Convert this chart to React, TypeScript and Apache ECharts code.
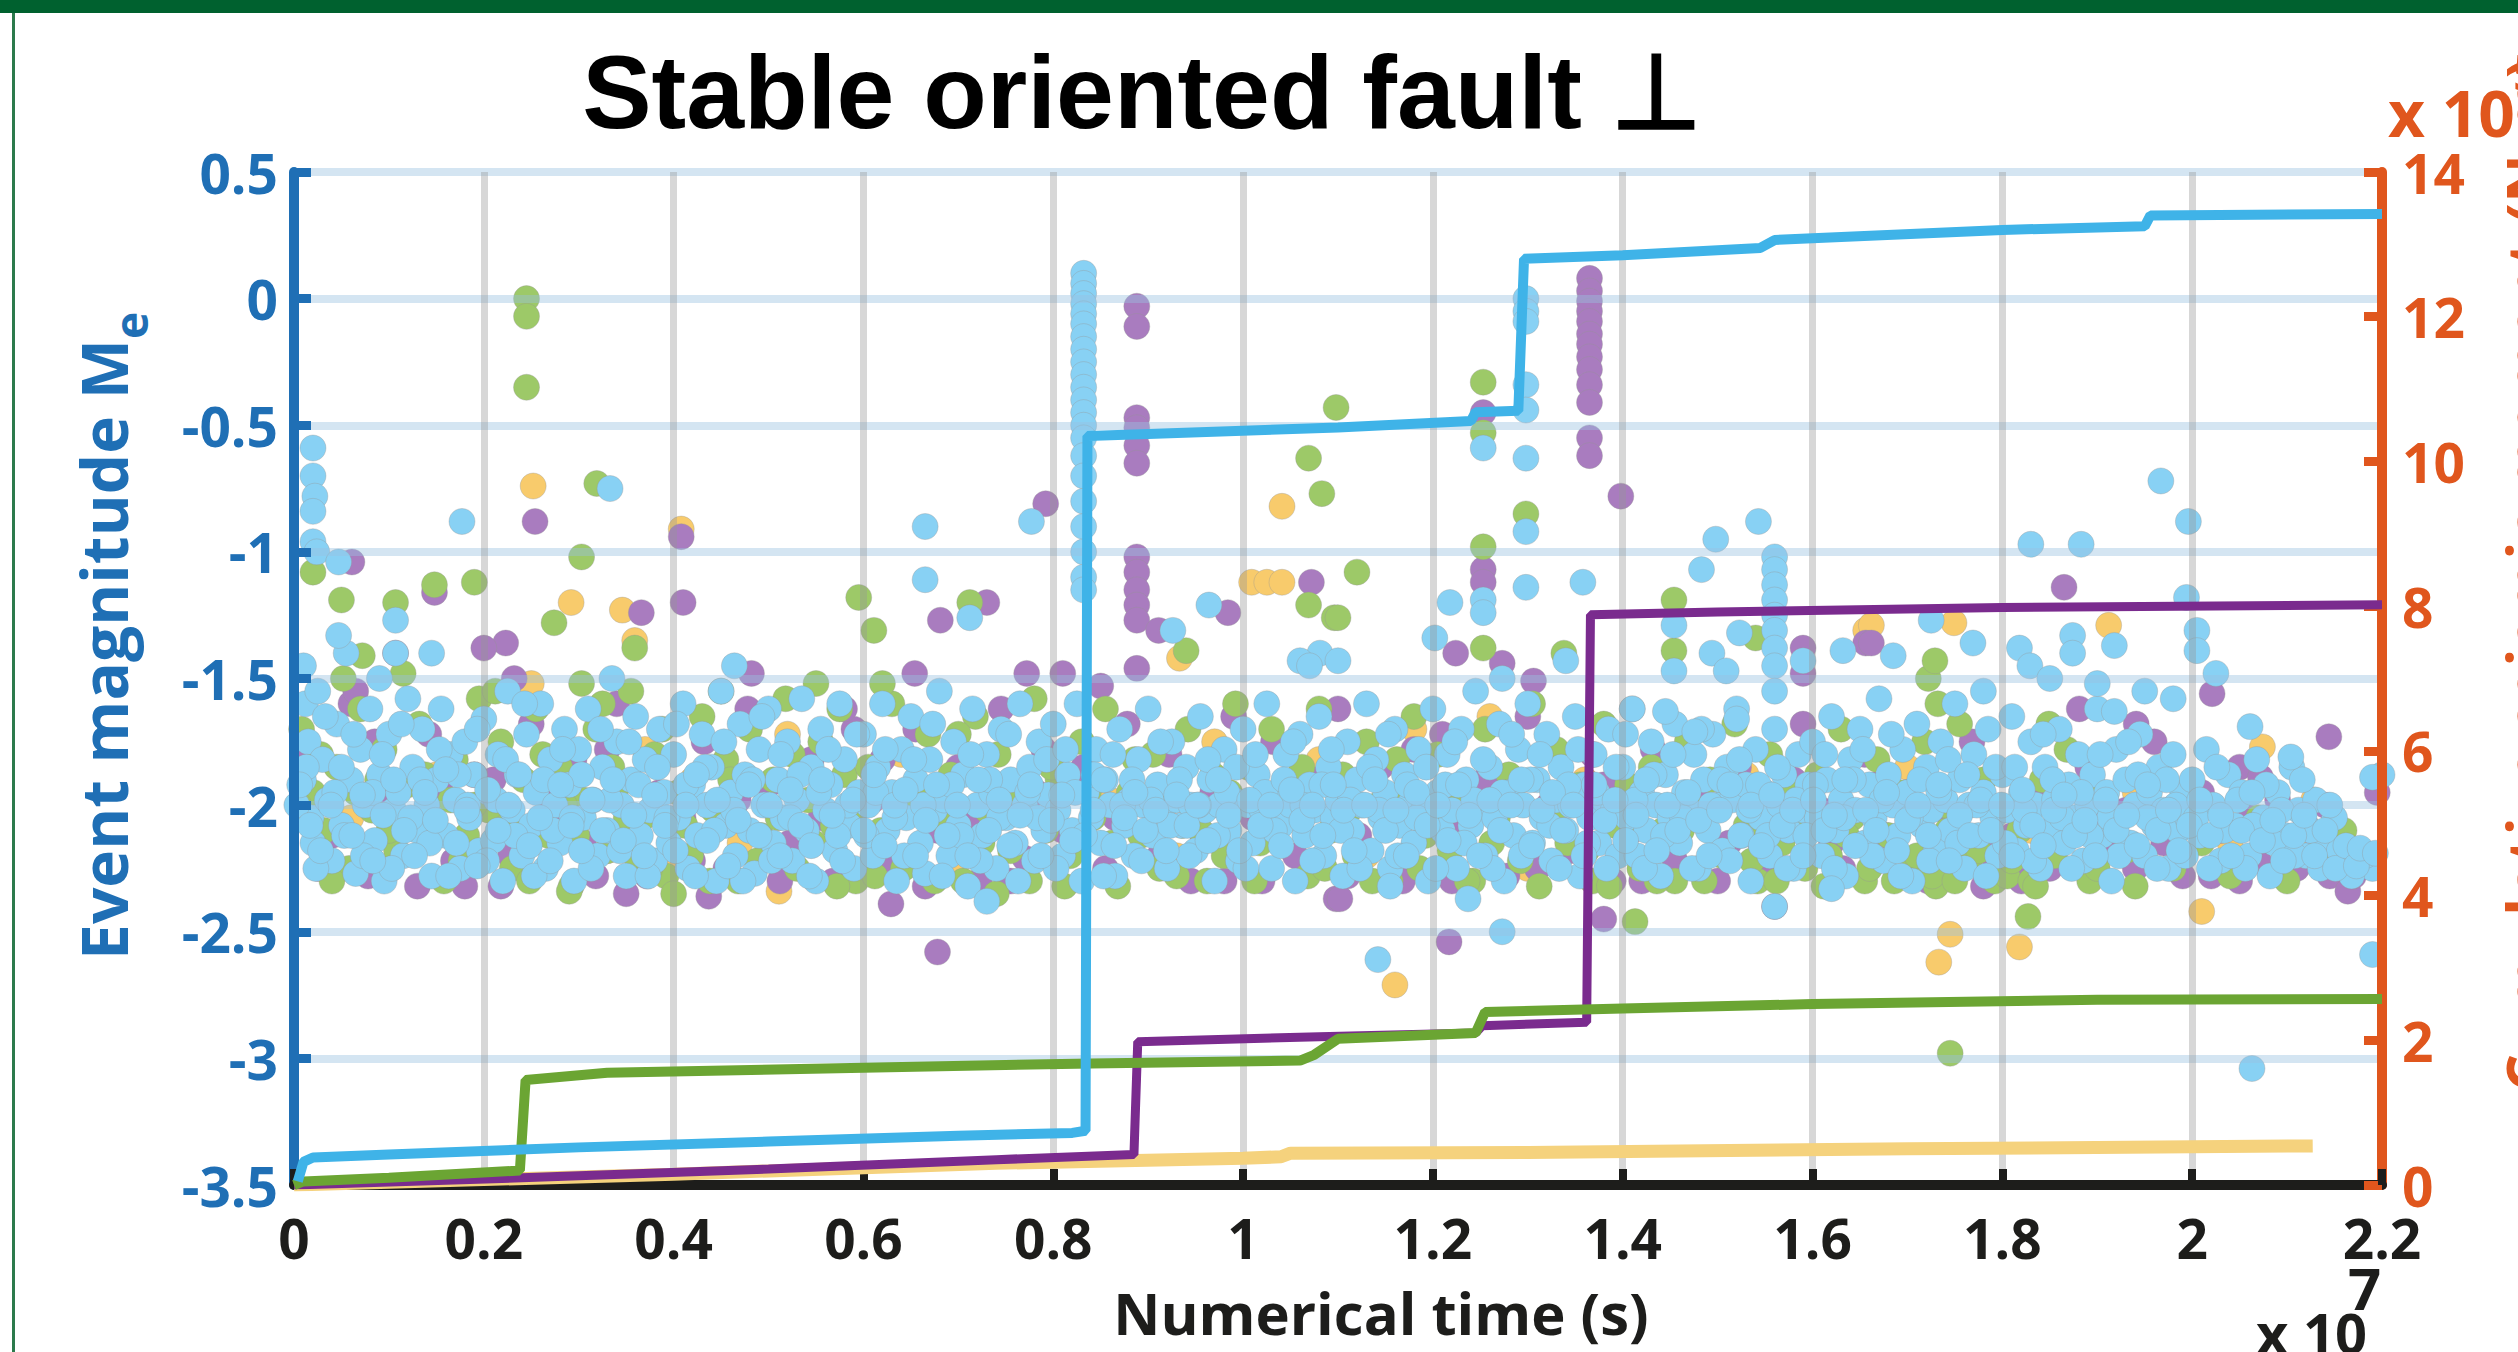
import React, { useEffect, useRef } from "react";
import * as echarts from "echarts";

// ---- Cumulative moment curves (right axis, x in units of 1e7 s) ----
const cyanMoment: [number, number][] = [
  [0.004, 0.05], [0.01, 0.32], [0.02, 0.38], [0.1, 0.42], [0.3, 0.52], [0.5, 0.6], [0.7, 0.68], [0.82, 0.72],
  [0.834, 0.75], [0.836, 10.35], [0.9, 10.38], [1.1, 10.47], [1.24, 10.56], [1.245, 10.68], [1.29, 10.7],
  [1.296, 12.8], [1.4, 12.85], [1.545, 12.95], [1.56, 13.06], [1.8, 13.2], [1.95, 13.25], [1.956, 13.4], [2.2, 13.42],
];
const purpleMoment: [number, number][] = [
  [0.0, 0.0], [0.24, 0.1], [0.5, 0.22], [0.74, 0.35], [0.885, 0.42], [0.889, 1.98], [1.08, 2.05],
  [1.245, 2.1], [1.252, 2.2], [1.362, 2.25], [1.366, 7.88], [1.5, 7.92], [1.8, 7.98], [2.2, 8.02],
];
const greenMoment: [number, number][] = [
  [0.0, 0.0], [0.01, 0.05], [0.1, 0.1], [0.238, 0.2], [0.244, 1.45], [0.33, 1.55], [0.6, 1.62], [0.84, 1.68],
  [1.06, 1.72], [1.075, 1.8], [1.1, 2.02], [1.245, 2.1], [1.255, 2.39], [1.4, 2.44], [1.6, 2.5], [1.9, 2.56], [2.2, 2.57],
];
const yellowMoment: [number, number][] = [
  [0.0, 0.0], [0.4, 0.15], [0.74, 0.3], [1.0, 0.37], [1.04, 0.39], [1.05, 0.44], [1.3, 0.45], [1.7, 0.5], [2.127, 0.54],
];

// ---- Event magnitudes (left axis) ----
const cyanEvents: [number, number][] = [
  [0.01,-1.45],[0.012,-1.6],[0.015,-1.75],[0.01,-1.9],[0.018,-2.05],[0.02,-2.15],[0.025,-1.55],[0.03,-1.82],[0.035,-1.98],[0.04,-2.22],[0.045,-1.68],[0.05,-2.08],[0.055,-1.4],[0.06,-1.9],[0.065,-2.27],[0.07,-1.78],[0.075,-2.0],[0.08,-1.62],[0.085,-2.14],[0.09,-1.88],[0.095,-2.3],[0.1,-1.72],[0.105,-2.02],[0.11,-1.95],[0.115,-2.2],[0.12,-1.58],[0.125,-1.85],[0.13,-2.1],[0.135,-1.7],[0.14,-2.0],[0.145,-2.28],[0.15,-1.9],[0.155,-1.62],[0.16,-2.12],[0.165,-1.8],[0.17,-1.98],[0.175,-2.25],[0.18,-1.75],[0.185,-2.05],[0.19,-1.88],[0.195,-2.18],
  [0.2,-1.66],[0.205,-1.95],[0.21,-2.14],[0.215,-1.8],[0.22,-2.3],[0.225,-1.55],[0.23,-2.02],[0.235,-1.88],[0.24,-2.2],[0.245,-1.72],[0.25,-2.08],[0.255,-1.95],[0.26,-1.6],[0.265,-2.25],[0.27,-1.82],[0.275,-2.0],[0.28,-2.15],[0.285,-1.7],[0.29,-1.92],[0.295,-2.3],[0.3,-1.78],[0.305,-2.05],[0.31,-1.62],[0.315,-1.98],[0.32,-2.2],[0.325,-1.85],[0.33,-2.1],[0.335,-1.5],[0.34,-1.75],[0.345,-2.0],[0.35,-2.28],[0.355,-1.9],[0.36,-1.65],[0.365,-2.12],[0.37,-1.82],[0.375,-2.02],[0.38,-2.22],[0.385,-1.7],[0.39,-1.95],[0.395,-2.15],
  [0.4,-1.8],[0.405,-2.05],[0.41,-1.6],[0.415,-2.25],[0.42,-1.92],[0.425,-2.12],[0.43,-1.72],[0.435,-2.0],[0.44,-1.85],[0.445,-2.3],[0.45,-1.55],[0.455,-2.08],[0.46,-1.95],[0.465,-2.2],[0.47,-1.68],[0.475,-1.88],[0.48,-2.1],[0.485,-2.27],[0.49,-1.78],[0.495,-2.0],[0.5,-1.62],[0.505,-2.15],[0.51,-1.9],[0.515,-2.05],[0.52,-1.75],[0.525,-2.22],[0.53,-1.98],[0.535,-1.58],[0.54,-2.1],[0.545,-1.85],[0.55,-2.3],[0.555,-1.7],[0.56,-2.02],[0.565,-1.92],[0.57,-2.18],[0.575,-1.6],[0.58,-1.82],[0.585,-2.08],[0.59,-2.25],[0.595,-1.95],
  [0.6,-1.72],[0.605,-2.0],[0.61,-2.2],[0.615,-1.85],[0.62,-1.6],[0.625,-2.1],[0.63,-1.95],[0.635,-2.3],[0.64,-1.78],[0.645,-2.05],[0.65,-1.65],[0.655,-1.9],[0.66,-2.15],[0.665,-2.27],[0.67,-1.82],[0.675,-2.02],[0.68,-1.55],[0.685,-1.98],[0.69,-2.2],[0.695,-1.75],[0.7,-2.08],[0.705,-1.88],[0.71,-2.32],[0.715,-1.62],[0.72,-2.0],[0.725,-2.12],[0.73,-1.8],[0.735,-1.95],[0.74,-2.25],[0.745,-1.7],[0.75,-2.05],[0.755,-1.9],[0.76,-2.15],[0.765,-1.6],[0.77,-2.0],[0.775,-1.85],[0.78,-2.22],[0.785,-1.75],[0.79,-2.1],[0.795,-1.96],
  [0.8,-1.68],[0.805,-2.02],[0.81,-2.2],[0.815,-1.88],[0.82,-2.1],[0.825,-1.6],[0.83,-2.3],[0.835,-1.95],[0.84,-2.05],[0.845,-1.78],[0.85,-2.15],[0.855,-1.9],[0.86,-2.0],[0.865,-2.28],[0.87,-1.7],[0.875,-2.08],[0.88,-1.98],[0.885,-2.2],[0.89,-1.82],[0.895,-2.0],[0.9,-1.62],[0.905,-2.12],[0.91,-1.92],[0.915,-2.02],[0.92,-2.25],[0.925,-1.75],[0.93,-1.98],[0.935,-2.08],[0.94,-1.85],[0.945,-2.0],[0.95,-2.18],[0.955,-1.65],[0.96,-2.02],[0.965,-1.9],[0.97,-2.3],[0.975,-2.0],[0.98,-1.78],[0.985,-2.1],[0.99,-1.98],[0.995,-2.22],
  [1.0,-1.7],[1.005,-2.0],[1.01,-2.15],[1.015,-1.88],[1.02,-2.02],[1.025,-1.6],[1.03,-2.25],[1.035,-1.95],[1.04,-2.08],[1.045,-1.8],[1.05,-2.0],[1.055,-2.3],[1.06,-1.72],[1.065,-2.12],[1.07,-1.92],[1.075,-2.02],[1.08,-1.65],[1.085,-2.2],[1.09,-1.85],[1.095,-2.05],[1.1,-1.98],[1.105,-2.28],[1.11,-1.75],[1.115,-2.1],[1.12,-1.9],[1.125,-2.0],[1.13,-1.6],[1.135,-2.18],[1.14,-1.82],[1.145,-2.05],[1.15,-1.95],[1.155,-2.25],[1.16,-1.7],[1.165,-2.08],[1.17,-1.88],[1.175,-2.0],[1.18,-2.15],[1.185,-1.78],[1.19,-2.02],[1.195,-2.3],
  [1.2,-1.62],[1.205,-1.95],[1.21,-2.1],[1.215,-1.8],[1.22,-2.02],[1.225,-2.25],[1.23,-1.7],[1.235,-1.9],[1.24,-2.08],[1.245,-1.55],[1.25,-2.0],[1.255,-2.2],[1.26,-1.85],[1.265,-2.05],[1.27,-1.68],[1.275,-2.3],[1.28,-1.95],[1.285,-2.12],[1.29,-1.78],[1.295,-2.0],[1.3,-1.6],[1.305,-2.15],[1.31,-1.9],[1.315,-2.05],[1.32,-1.72],[1.325,-2.22],[1.33,-1.98],[1.335,-1.85],[1.34,-2.1],[1.345,-2.0],[1.35,-1.65],[1.355,-2.28],[1.36,-1.92],[1.365,-2.05],[1.37,-1.8],[1.375,-2.15],[1.38,-1.98],[1.385,-1.7],[1.39,-2.02],[1.395,-2.2],
  [1.4,-1.85],[1.405,-2.05],[1.41,-1.62],[1.415,-2.2],[1.42,-1.95],[1.425,-2.1],[1.43,-1.75],[1.435,-2.0],[1.44,-2.28],[1.445,-1.88],[1.45,-2.05],[1.455,-1.68],[1.46,-2.15],[1.465,-1.95],[1.47,-2.02],[1.475,-1.8],[1.48,-2.25],[1.485,-1.9],[1.49,-2.1],[1.495,-1.72],[1.5,-2.0],[1.505,-2.18],[1.51,-1.85],[1.515,-1.98],[1.52,-1.62],[1.525,-2.12],[1.53,-1.92],[1.535,-2.3],[1.54,-1.78],[1.545,-2.05],[1.55,-1.95],[1.555,-2.2],[1.56,-1.7],[1.565,-2.0],[1.57,-1.88],[1.575,-2.1],[1.58,-2.25],[1.585,-1.8],[1.59,-2.02],[1.595,-1.92],
  [1.6,-1.75],[1.605,-2.05],[1.61,-2.2],[1.615,-1.9],[1.62,-1.65],[1.625,-2.1],[1.63,-1.98],[1.635,-2.28],[1.64,-1.82],[1.645,-2.02],[1.65,-1.7],[1.655,-2.15],[1.66,-1.92],[1.665,-2.05],[1.67,-1.58],[1.675,-2.22],[1.68,-1.88],[1.685,-2.0],[1.69,-2.12],[1.695,-1.78],[1.7,-1.95],[1.705,-2.3],[1.71,-1.68],[1.715,-2.08],[1.72,-1.85],[1.725,-2.02],[1.73,-2.18],[1.735,-1.75],[1.74,-1.98],[1.745,-2.1],[1.75,-1.6],[1.755,-1.9],[1.76,-2.25],[1.765,-2.0],[1.77,-1.8],[1.775,-2.12],[1.78,-1.95],[1.785,-1.7],[1.79,-2.05],[1.795,-2.2],
  [1.8,-1.88],[1.805,-2.02],[1.81,-1.65],[1.815,-2.18],[1.82,-1.95],[1.825,-2.08],[1.83,-1.75],[1.835,-2.0],[1.84,-2.25],[1.845,-1.85],[1.85,-2.1],[1.855,-1.98],[1.86,-1.7],[1.865,-2.15],[1.87,-1.92],[1.875,-2.05],[1.88,-1.8],[1.885,-2.22],[1.89,-2.0],[1.895,-1.88],[1.9,-1.62],[1.905,-2.12],[1.91,-1.95],[1.915,-2.3],[1.92,-1.78],[1.925,-2.05],[1.93,-1.9],[1.935,-2.15],[1.94,-2.0],[1.945,-1.72],[1.95,-2.2],[1.955,-1.95],[1.96,-2.08],[1.965,-1.85],[1.97,-2.02],[1.975,-2.25],[1.98,-1.8],[1.985,-2.1],[1.99,-1.95],[1.995,-2.05],
  [2.0,-1.9],[2.008,-2.12],[2.015,-1.78],[2.022,-2.0],[2.03,-2.22],[2.038,-1.88],[2.045,-2.08],[2.052,-1.95],[2.06,-2.2],[2.068,-1.82],[2.075,-2.05],[2.082,-2.28],[2.09,-1.95],[2.098,-2.12],[2.105,-1.85],[2.112,-2.02],[2.12,-2.2],[2.13,-1.98],[2.14,-2.15],[2.15,-2.05],[2.16,-2.22],[2.175,-2.18],[2.19,-2.25],[2.2,-1.88],
  // denser part of the band
  [0.003,-2.0],[0.013,-1.85],[0.023,-2.25],[0.033,-1.65],[0.043,-1.95],[0.053,-2.12],[0.063,-1.72],[0.073,-2.2],[0.083,-1.95],[0.093,-1.8],[0.103,-2.25],[0.113,-1.68],[0.123,-2.05],[0.133,-1.9],[0.143,-2.15],[0.153,-1.78],[0.163,-2.28],[0.173,-1.88],[0.183,-2.0],[0.193,-1.7],
  [0.203,-2.22],[0.213,-1.98],[0.223,-1.82],[0.233,-2.12],[0.243,-1.6],[0.253,-2.28],[0.263,-1.9],[0.273,-2.1],[0.283,-1.78],[0.293,-2.05],[0.303,-1.88],[0.313,-2.25],[0.323,-1.7],[0.333,-1.98],[0.343,-2.18],[0.353,-1.75],[0.363,-1.92],[0.373,-2.28],[0.383,-1.85],[0.393,-2.05],
  [0.403,-1.68],[0.413,-1.92],[0.423,-2.28],[0.433,-1.85],[0.443,-2.1],[0.453,-1.75],[0.463,-2.02],[0.473,-2.3],[0.483,-1.9],[0.493,-1.65],[0.503,-2.22],[0.513,-1.8],[0.523,-2.05],[0.533,-1.88],[0.543,-2.28],[0.553,-1.95],[0.563,-1.78],[0.573,-2.12],[0.583,-2.0],[0.593,-1.72],
  [0.603,-2.12],[0.613,-1.95],[0.623,-1.78],[0.633,-2.05],[0.643,-2.2],[0.653,-1.82],[0.663,-2.0],[0.673,-1.68],[0.683,-2.28],[0.693,-1.92],[0.703,-2.12],[0.713,-1.8],[0.723,-2.22],[0.733,-1.9],[0.743,-2.05],[0.753,-1.72],[0.763,-2.3],[0.773,-1.95],[0.783,-2.05],[0.793,-1.82],
  [0.803,-2.25],[0.813,-1.78],[0.823,-1.95],[0.833,-2.12],[0.843,-1.88],[0.853,-2.28],[0.863,-1.8],[0.873,-2.0],[0.883,-1.9],[0.893,-2.22],[0.903,-1.98],[0.913,-1.75],[0.923,-2.08],[0.933,-1.9],[0.943,-2.2],[0.953,-2.0],[0.963,-1.82],[0.973,-2.12],[0.983,-1.95],[0.993,-1.85],
  [1.003,-2.25],[1.013,-1.8],[1.023,-1.95],[1.033,-2.1],[1.043,-1.9],[1.053,-1.75],[1.063,-2.0],[1.073,-2.22],[1.083,-1.92],[1.093,-1.78],[1.103,-2.1],[1.113,-1.98],[1.123,-2.25],[1.133,-1.85],[1.143,-2.02],[1.153,-1.72],[1.163,-2.2],[1.173,-1.92],[1.183,-2.05],[1.193,-1.85],
  [1.203,-2.25],[1.213,-1.92],[1.223,-1.75],[1.233,-2.15],[1.243,-1.98],[1.253,-1.82],[1.263,-2.25],[1.273,-1.95],[1.283,-1.72],[1.293,-2.2],[1.303,-1.9],[1.313,-1.8],[1.323,-2.08],[1.333,-2.25],[1.343,-1.92],[1.353,-1.78],[1.363,-2.15],[1.373,-1.95],[1.383,-2.25],[1.393,-1.85],
  [1.403,-1.72],[1.413,-1.98],[1.423,-2.25],[1.433,-1.88],[1.443,-2.12],[1.453,-1.8],[1.463,-2.05],[1.473,-2.25],[1.483,-1.7],[1.493,-2.0],[1.503,-1.9],[1.513,-2.22],[1.523,-1.82],[1.533,-2.02],[1.543,-1.92],[1.553,-2.12],[1.563,-1.85],[1.573,-2.25],[1.583,-1.98],[1.593,-2.12],
  [1.603,-1.92],[1.613,-1.8],[1.623,-2.25],[1.633,-2.05],[1.643,-1.9],[1.653,-1.78],[1.663,-2.2],[1.673,-1.98],[1.683,-1.72],[1.693,-2.28],[1.703,-2.05],[1.713,-1.9],[1.723,-2.22],[1.733,-1.95],[1.743,-1.82],[1.753,-2.15],[1.763,-1.88],[1.773,-2.0],[1.783,-2.28],[1.793,-1.85],
  [1.803,-2.15],[1.813,-1.85],[1.823,-2.02],[1.833,-2.22],[1.843,-1.72],[1.853,-1.9],[1.863,-2.05],[1.873,-2.25],[1.883,-1.95],[1.893,-2.12],[1.903,-1.8],[1.913,-2.05],[1.923,-2.2],[1.933,-1.75],[1.943,-1.88],[1.953,-2.05],[1.963,-2.25],[1.973,-1.9],[1.983,-2.0],[1.993,-2.2],
  [2.004,-2.05],[2.018,-2.25],[2.026,-1.85],[2.034,-2.1],[2.048,-1.98],[2.056,-2.25],[2.064,-2.08],[2.078,-1.92],[2.086,-2.15],[2.094,-2.02],[2.108,-2.2],[2.116,-1.9],[2.125,-2.1],[2.135,-2.25],[2.145,-2.0],[2.155,-2.18],[2.168,-2.28],[2.182,-2.2],
  // solid light-blue core around -2
  [0.006,-1.92],[0.017,-2.08],[0.028,-2.18],[0.039,-2.0],[0.05,-1.85],[0.061,-2.12],[0.072,-1.96],[0.083,-2.22],[0.094,-2.04],[0.105,-1.9],
  [0.116,-2.1],[0.127,-2.2],[0.138,-1.95],[0.149,-2.06],[0.16,-1.86],[0.171,-2.15],[0.182,-2.02],[0.193,-2.24],[0.204,-1.94],[0.215,-2.1],
  [0.226,-2.0],[0.237,-1.88],[0.248,-2.16],[0.259,-2.05],[0.27,-2.22],[0.281,-1.92],[0.292,-2.08],[0.303,-2.18],[0.314,-1.98],[0.325,-2.1],
  [0.336,-1.9],[0.347,-2.14],[0.358,-2.04],[0.369,-2.2],[0.38,-1.96],[0.391,-2.08],[0.402,-2.18],[0.413,-2.0],[0.424,-1.88],[0.435,-2.14],
  [0.446,-1.98],[0.457,-2.24],[0.468,-2.06],[0.479,-1.92],[0.49,-2.12],[0.501,-2.0],[0.512,-2.2],[0.523,-1.94],[0.534,-2.08],[0.545,-2.16],
  [0.556,-1.9],[0.567,-2.04],[0.578,-2.22],[0.589,-1.98],[0.6,-2.1],[0.611,-1.88],[0.622,-2.16],[0.633,-2.0],[0.644,-1.94],[0.655,-2.2],
  [0.666,-2.06],[0.677,-1.92],[0.688,-2.12],[0.699,-2.0],[0.71,-2.2],[0.721,-1.9],[0.732,-2.1],[0.743,-1.98],[0.754,-2.16],[0.765,-2.04],
  [0.776,-1.92],[0.787,-2.2],[0.798,-2.06],[0.809,-1.96],[0.82,-2.14],[0.842,-2.02],[0.853,-1.9],[0.864,-2.16],[0.875,-2.05],[0.886,-1.95],
  [0.897,-2.1],[0.908,-2.02],[0.919,-2.18],[0.93,-1.96],[0.941,-2.08],[0.952,-2.0],[0.963,-2.14],[0.974,-1.9],[0.985,-2.04],[0.996,-2.18],
  [1.007,-1.98],[1.018,-2.08],[1.029,-2.0],[1.04,-2.16],[1.051,-1.94],[1.062,-2.06],[1.073,-2.0],[1.084,-2.12],[1.095,-1.92],[1.106,-2.02],
  [1.117,-2.18],[1.128,-2.0],[1.139,-1.9],[1.15,-2.1],[1.161,-2.02],[1.172,-2.2],[1.183,-1.95],[1.194,-2.08],[1.205,-2.0],[1.216,-2.14],
  [1.227,-1.92],[1.238,-2.04],[1.249,-2.2],[1.26,-1.98],[1.271,-2.1],[1.282,-2.0],[1.293,-1.9],[1.304,-2.16],[1.315,-2.02],[1.326,-1.95],
  [1.337,-2.1],[1.348,-2.0],[1.359,-2.2],[1.37,-1.92],[1.381,-2.06],[1.392,-1.98],[1.403,-2.14],[1.414,-2.04],[1.425,-1.9],[1.436,-2.18],
  [1.447,-2.0],[1.458,-2.1],[1.469,-1.95],[1.48,-2.06],[1.491,-2.2],[1.502,-2.02],[1.513,-1.92],[1.524,-2.12],[1.535,-2.0],[1.546,-2.16],
  [1.557,-1.96],[1.568,-2.08],[1.579,-2.02],[1.59,-2.2],[1.601,-1.98],[1.612,-2.1],[1.623,-2.04],[1.634,-1.9],[1.645,-2.16],[1.656,-2.02],
  [1.667,-2.1],[1.678,-1.95],[1.689,-2.18],[1.7,-2.06],[1.711,-2.0],[1.722,-2.12],[1.733,-1.92],[1.744,-2.22],[1.755,-2.04],[1.766,-2.12],
  [1.777,-1.98],[1.788,-2.1],[1.799,-2.0],[1.81,-2.2],[1.821,-1.94],[1.832,-2.08],[1.843,-2.16],[1.854,-2.02],[1.865,-1.96],[1.876,-2.12],
  [1.887,-2.06],[1.898,-2.2],[1.909,-1.98],[1.92,-2.1],[1.931,-2.04],[1.942,-2.16],[1.953,-1.92],[1.964,-2.1],[1.975,-2.02],[1.986,-2.18],
  [1.997,-2.08],[2.008,-1.98],[2.019,-2.12],[2.03,-2.04],[2.041,-2.2],[2.052,-2.1],[2.063,-1.95],[2.074,-2.14],[2.085,-2.06],[2.096,-2.22],
  [2.107,-2.12],[2.118,-2.04],[2.129,-2.2],[2.14,-2.1],[2.151,-2.25],[2.162,-2.16],[2.173,-2.24],
  // outliers
  [0.02,-0.59],[0.02,-0.7],[0.022,-0.78],[0.02,-0.84],[0.02,-0.96],[0.024,-1.0],[0.047,-1.04],[0.177,-0.88],[0.333,-0.75],[0.107,-1.27],[0.107,-1.4],[0.047,-1.33],[0.145,-1.4],[0.09,-1.5],[0.464,-1.45],
  [0.832,0.1],[0.832,0.06],[0.832,0.02],[0.832,-0.02],[0.832,-0.06],[0.832,-0.1],[0.832,-0.15],[0.832,-0.2],[0.832,-0.25],[0.832,-0.3],[0.832,-0.35],[0.832,-0.4],[0.832,-0.45],[0.832,-0.5],[0.832,-0.55],[0.832,-0.62],[0.832,-0.7],[0.832,-0.8],[0.832,-0.9],[0.832,-1.0],[0.832,-1.1],[0.832,-1.15],
  [0.665,-0.9],[0.665,-1.11],[0.777,-0.88],[0.712,-1.26],[0.926,-1.31],[0.964,-1.21],[1.081,-1.4],[1.06,-1.43],[1.07,-1.45],[1.1,-1.43],
  [1.253,-0.59],[1.253,-1.19],[1.253,-1.24],[1.218,-1.2],[1.202,-1.34],[1.273,-1.5],
  [1.298,0.0],[1.298,-0.05],[1.298,-0.09],[1.298,-0.34],[1.298,-0.44],[1.298,-0.63],[1.298,-0.92],[1.298,-1.14],
  [1.358,-1.12],[1.34,-1.43],[1.498,-0.95],[1.543,-0.88],[1.483,-1.07],
  [1.56,-1.02],[1.56,-1.07],[1.56,-1.13],[1.56,-1.19],[1.56,-1.25],[1.56,-1.31],[1.56,-1.38],[1.56,-1.45],[1.56,-1.55],
  [1.454,-1.29],[1.454,-1.47],[1.494,-1.4],[1.509,-1.47],[1.523,-1.32],[1.59,-1.43],[1.632,-1.39],[1.41,-1.62],[1.445,-1.63],[1.476,-1.71],[1.52,-1.66],
  [1.155,-2.32],[1.237,-2.37],[1.273,-2.5],[1.142,-2.61],[1.56,-2.4],[1.62,-2.33],[0.73,-2.38],
  [1.967,-0.72],[1.996,-0.88],[1.83,-0.97],[1.883,-0.97],[1.994,-1.18],[1.725,-1.27],[1.769,-1.36],[1.685,-1.41],[1.818,-1.38],[1.829,-1.45],[1.874,-1.33],[1.874,-1.4],[1.918,-1.37],[2.005,-1.31],[2.005,-1.39],[2.025,-1.48],[1.918,-1.63],[2.061,-1.69],[2.104,-1.81],[2.19,-1.89],[2.177,-2.17],[2.193,-2.19],[2.19,-2.59],[2.063,-3.04],
  [1.85,-1.5],[1.9,-1.52],[1.95,-1.55],[1.98,-1.58],[1.78,-1.55],
];

const greenEvents: [number, number][] = [
  [0.008,-1.7],[0.02,-1.95],[0.032,-2.1],[0.045,-1.85],[0.058,-2.25],[0.07,-1.62],[0.082,-2.02],[0.095,-1.78],[0.108,-2.18],[0.12,-1.92],[0.132,-1.68],[0.145,-2.05],[0.158,-2.3],[0.17,-1.82],[0.182,-2.12],[0.195,-1.58],[0.052,-1.5],[0.115,-1.48],[0.165,-1.98],[0.088,-1.9],
  [0.205,-2.02],[0.218,-1.75],[0.23,-2.25],[0.242,-1.9],[0.255,-1.62],[0.268,-2.12],[0.28,-1.85],[0.292,-2.32],[0.305,-1.98],[0.318,-1.7],[0.33,-2.18],[0.342,-1.92],[0.355,-1.55],[0.368,-2.05],[0.38,-1.8],[0.392,-2.28],[0.212,-1.55],[0.285,-2.0],[0.36,-2.2],[0.325,-1.6],
  [0.405,-1.95],[0.418,-2.2],[0.43,-1.65],[0.442,-2.02],[0.455,-1.82],[0.468,-2.3],[0.48,-1.7],[0.492,-2.12],[0.505,-1.9],[0.518,-1.58],[0.53,-2.25],[0.542,-1.98],[0.555,-1.75],[0.568,-2.08],[0.58,-1.88],[0.592,-2.3],[0.45,-1.55],[0.55,-1.52],[0.51,-2.05],[0.575,-1.62],
  [0.605,-1.85],[0.618,-2.1],[0.63,-1.6],[0.642,-2.25],[0.655,-1.95],[0.668,-1.72],[0.68,-2.05],[0.692,-1.88],[0.705,-2.3],[0.718,-1.65],[0.73,-2.02],[0.742,-1.8],[0.755,-2.18],[0.768,-1.92],[0.78,-1.58],[0.792,-2.1],[0.74,-2.35],[0.62,-1.52],
  [0.805,-1.9],[0.818,-2.2],[0.83,-1.75],[0.842,-2.05],[0.855,-1.62],[0.868,-2.32],[0.88,-1.95],[0.892,-2.12],[0.905,-1.8],[0.918,-2.0],[0.93,-2.28],[0.942,-1.7],[0.955,-2.1],[0.968,-1.88],[0.98,-2.2],[0.992,-1.6],
  [1.005,-1.85],[1.018,-2.15],[1.03,-1.7],[1.042,-2.02],[1.055,-1.92],[1.068,-2.28],[1.08,-1.62],[1.092,-2.1],[1.105,-1.88],[1.118,-2.2],[1.13,-1.75],[1.142,-2.0],[1.155,-2.3],[1.168,-1.95],[1.18,-1.65],[1.192,-2.12],
  [1.205,-1.8],[1.218,-2.18],[1.23,-1.95],[1.242,-2.3],[1.255,-1.7],[1.268,-2.05],[1.28,-1.88],[1.292,-2.22],[1.305,-1.6],[1.318,-2.02],[1.33,-1.78],[1.342,-2.15],[1.355,-1.92],[1.368,-2.3],[1.38,-1.68],[1.392,-2.08],
  [1.405,-1.92],[1.418,-2.25],[1.43,-1.85],[1.442,-2.1],[1.455,-2.3],[1.468,-1.75],[1.48,-2.02],[1.492,-1.9],[1.505,-2.2],[1.518,-1.68],[1.53,-2.08],[1.542,-2.3],[1.555,-1.8],[1.568,-2.15],[1.58,-1.95],[1.592,-2.25],
  [1.605,-1.88],[1.618,-2.2],[1.63,-1.7],[1.642,-2.05],[1.655,-2.3],[1.668,-1.82],[1.68,-2.12],[1.692,-1.95],[1.705,-2.25],[1.718,-1.75],[1.73,-2.32],[1.742,-2.1],[1.755,-1.68],[1.768,-2.2],[1.78,-1.9],[1.792,-2.3],[1.722,-1.5],[1.732,-1.6],[1.74,-2.0],
  [1.805,-2.28],[1.818,-2.1],[1.83,-2.3],[1.842,-1.9],[1.855,-2.2],[1.868,-1.78],[1.88,-2.05],[1.892,-2.3],[1.905,-1.95],[1.93,-2.18],[1.955,-2.02],[1.98,-2.25],
  [2.01,-2.15],[2.04,-2.28],[2.07,-2.05],[2.1,-2.3],[2.133,-2.19],[2.16,-2.1],
  [0.005,-2.0],[0.028,-1.8],[0.04,-2.3],[0.065,-1.95],[0.1,-2.1],[0.138,-1.88],[0.176,-2.22],[0.19,-2.0],
  [0.225,-2.08],[0.248,-2.3],[0.262,-1.8],[0.298,-2.12],[0.335,-1.85],[0.35,-2.05],[0.375,-2.25],[0.388,-1.7],
  [0.412,-2.08],[0.438,-2.3],[0.46,-1.9],[0.488,-2.22],[0.525,-1.8],[0.548,-2.15],[0.572,-2.32],[0.598,-2.0],
  [0.612,-2.28],[0.648,-2.0],[0.675,-2.3],[0.7,-1.72],[0.725,-2.15],[0.75,-1.95],[0.775,-2.3],[0.798,-1.85],
  [0.812,-2.32],[0.837,-1.95],[0.862,-2.15],[0.886,-1.82],[0.912,-2.25],[0.936,-2.08],[0.962,-2.3],[0.986,-1.95],
  [1.012,-2.3],[1.036,-2.05],[1.062,-1.85],[1.086,-2.25],[1.112,-2.02],[1.136,-2.3],[1.162,-1.82],[1.186,-2.25],
  [1.212,-2.02],[1.236,-2.3],[1.262,-2.15],[1.286,-1.98],[1.312,-2.32],[1.336,-2.0],[1.362,-2.18],[1.386,-2.32],
  [1.412,-2.05],[1.436,-2.3],[1.462,-2.1],[1.486,-2.3],[1.512,-1.95],[1.536,-2.22],[1.562,-2.3],[1.586,-2.08],
  [1.612,-2.32],[1.636,-2.12],[1.66,-2.25],[1.686,-2.3],[1.71,-2.2],[1.726,-2.28],[1.75,-2.3],[1.775,-2.18],
  [1.81,-2.22],[1.835,-2.32],[1.86,-2.12],[1.9,-2.25],[1.94,-2.32],
  // outliers
  [0.245,0.0],[0.245,-0.07],[0.245,-0.35],[0.319,-0.73],[0.02,-1.08],[0.303,-1.02],[0.05,-1.19],[0.107,-1.2],[0.148,-1.13],[0.19,-1.12],[0.274,-1.28],[0.072,-1.41],[0.303,-1.52],[0.359,-1.38],[0.29,-2.34],[0.4,-2.35],
  [0.595,-1.18],[0.611,-1.31],[0.712,-1.2],[0.94,-1.39],[1.069,-1.21],[1.098,-0.43],[1.069,-0.63],[1.083,-0.77],[1.096,-1.26],[1.12,-1.08],[1.1,-1.26],
  [1.253,-0.33],[1.253,-0.53],[1.253,-0.98],[1.253,-1.38],[1.298,-0.85],[1.338,-1.4],[1.454,-1.19],[1.454,-1.39],[1.54,-1.34],[1.413,-2.46],
  [1.729,-1.43],[1.849,-1.68],[1.827,-2.44],[1.745,-2.98],
];

const purpleEvents: [number, number][] = [
  [0.015,-1.82],[0.04,-2.12],[0.06,-1.6],[0.078,-2.28],[0.1,-1.95],[0.125,-2.08],[0.142,-1.72],[0.168,-2.22],[0.19,-1.88],[0.065,-1.55],[0.13,-2.32],
  [0.21,-1.9],[0.228,-2.2],[0.25,-1.68],[0.272,-2.05],[0.295,-1.82],[0.318,-2.28],[0.34,-1.6],[0.362,-2.12],[0.385,-1.95],[0.35,-2.35],[0.232,-1.5],
  [0.41,-2.05],[0.432,-1.75],[0.455,-2.25],[0.478,-1.62],[0.5,-1.92],[0.522,-2.15],[0.545,-1.82],[0.568,-2.3],[0.59,-1.7],[0.437,-2.36],
  [0.61,-1.98],[0.632,-2.22],[0.655,-1.7],[0.678,-2.1],[0.7,-1.85],[0.722,-2.3],[0.745,-1.62],[0.768,-2.02],[0.79,-1.78],[0.77,-2.21],[0.629,-2.39],
  [0.81,-2.1],[0.832,-1.85],[0.855,-2.25],[0.878,-1.68],[0.9,-2.0],[0.922,-1.8],[0.945,-2.3],[0.968,-1.95],[0.99,-1.65],
  [1.01,-2.05],[1.032,-1.75],[1.055,-2.2],[1.078,-1.9],[1.1,-1.62],[1.122,-2.12],[1.145,-1.85],[1.168,-2.3],[1.19,-2.0],
  [1.21,-1.72],[1.232,-2.08],[1.255,-1.9],[1.278,-2.28],[1.3,-1.65],[1.322,-2.0],[1.345,-2.18],[1.368,-1.8],[1.39,-2.3],
  [1.41,-2.1],[1.432,-1.78],[1.455,-2.22],[1.478,-1.95],[1.5,-2.3],[1.522,-1.85],[1.545,-2.15],[1.568,-2.0],[1.59,-1.68],
  [1.61,-2.02],[1.632,-2.25],[1.655,-1.8],[1.678,-2.12],[1.7,-1.95],[1.722,-2.3],[1.745,-2.05],[1.768,-1.75],[1.79,-2.2],
  [1.81,-2.12],[1.83,-1.95],[1.85,-2.25],[1.87,-2.05],[1.89,-1.85],[1.91,-2.18],[1.93,-2.02],[1.95,-1.9],[1.97,-2.15],[1.99,-2.28],[1.96,-1.75],
  [2.01,-1.95],[2.03,-2.1],[2.05,-1.85],[2.07,-2.22],[2.09,-1.98],[2.11,-2.25],[2.12,-2.08],[2.133,-2.14],[2.145,-2.28],[2.164,-2.34],[2.05,-2.3],
  [0.025,-2.25],[0.085,-1.75],[0.112,-2.2],[0.155,-1.95],[0.18,-2.32],
  [0.218,-2.32],[0.262,-1.95],[0.305,-2.15],[0.33,-1.78],[0.372,-2.28],
  [0.42,-2.22],[0.468,-1.98],[0.512,-2.3],[0.555,-2.05],[0.58,-1.62],
  [0.62,-1.82],[0.665,-2.32],[0.712,-2.05],[0.755,-2.3],[0.782,-1.95],
  [0.82,-1.9],[0.865,-2.05],[0.912,-2.2],[0.955,-2.1],[0.98,-2.3],
  [1.02,-2.3],[1.066,-1.95],[1.11,-2.28],[1.156,-2.05],[1.18,-1.78],
  [1.22,-2.3],[1.266,-2.02],[1.31,-2.25],[1.356,-2.0],[1.38,-1.92],
  [1.42,-2.3],[1.466,-2.05],[1.512,-2.15],[1.556,-2.28],[1.58,-1.9],
  [1.62,-2.15],[1.666,-1.92],[1.71,-2.28],[1.756,-2.12],[1.78,-2.32],
  [1.82,-2.3],[1.86,-2.15],[1.9,-2.05],[1.94,-2.25],[1.98,-2.1],
  [2.02,-2.28],[2.06,-2.05],[2.1,-2.15],[2.14,-2.0],[2.17,-2.28],
  // outliers
  [0.061,-1.04],[0.254,-0.88],[0.408,-0.94],[0.148,-1.16],[0.107,-1.4],[0.366,-1.24],[0.41,-1.2],[0.223,-1.36],[0.2,-1.38],[0.482,-1.48],
  [0.888,-0.03],[0.888,-0.11],[0.888,-0.47],[0.888,-0.51],[0.888,-0.58],[0.888,-0.65],[0.888,-1.02],[0.888,-1.08],[0.888,-1.15],[0.888,-1.21],[0.888,-1.27],[0.888,-1.46],
  [0.792,-0.81],[0.681,-1.27],[0.73,-1.2],[0.654,-1.48],[0.772,-1.48],[0.81,-1.48],[0.85,-1.53],[0.911,-1.31],[0.984,-1.24],[1.072,-1.12],[0.678,-2.58],[1.098,-2.37],
  [1.253,-0.45],[1.253,-1.07],[1.253,-1.12],[1.224,-1.4],[1.273,-1.44],[1.306,-1.51],
  [1.365,0.08],[1.365,0.03],[1.365,-0.01],[1.365,-0.05],[1.365,-0.09],[1.365,-0.14],[1.365,-0.18],[1.365,-0.23],[1.365,-0.28],[1.365,-0.34],[1.365,-0.41],[1.365,-0.55],[1.365,-0.62],
  [1.398,-0.78],[1.59,-1.38],[1.59,-1.48],[1.656,-1.36],[1.102,-2.37],[1.217,-2.54],[1.38,-2.45],[1.56,-2.4],
  [1.865,-1.14],[1.662,-1.36],[2.021,-1.56],[1.881,-1.62],[1.941,-1.68],[2.144,-1.73],[2.072,-1.89],[2.195,-1.95],
];

const yellowEvents: [number, number][] = [
  [0.06,-2.05],[0.15,-1.88],[0.25,-1.52],[0.28,-2.0],[0.33,-2.18],[0.37,-1.78],[0.395,-2.25],
  [0.42,-1.9],[0.47,-2.15],[0.52,-1.72],[0.56,-2.05],[0.511,-2.34],[0.64,-1.8],[0.7,-2.22],[0.76,-1.92],
  [0.86,-1.98],[0.93,-2.2],[0.97,-1.75],[1.02,-2.1],[1.08,-1.82],[1.13,-2.2],[1.18,-1.7],
  [1.22,-2.0],[1.26,-1.65],[1.3,-2.25],[1.36,-1.9],[1.45,-2.15],[1.53,-1.88],[1.63,-2.08],[1.7,-1.85],[1.76,-2.2],
  [1.83,-2.1],[1.89,-2.22],[1.94,-1.95],[1.98,-2.05],[2.04,-2.15],[2.09,-2.25],[2.12,-2.14],
  // outliers
  [0.252,-0.74],[0.408,-0.91],[0.292,-1.2],[0.346,-1.23],[0.359,-1.35],[0.933,-1.42],[1.009,-1.12],[1.025,-1.12],[1.041,-1.12],[1.041,-0.82],
  [1.16,-2.71],[1.16,-2.3],[1.656,-1.31],[1.662,-1.29],[1.749,-1.28],[1.912,-1.29],[2.074,-1.77],[2.128,-1.98],[1.745,-2.51],[1.733,-2.62],[1.818,-2.56],[2.01,-2.42],
];

const TITLE = "Stable oriented fault \u22A5";
const Y_NAME = "Event magnitude M";
const Y_NAME_SUB = "e";
const X_NAME = "Numerical time (s)";
const RIGHT_NAME = "Cumulative seismic moment (N.m)";

const BLUE = "#1f6fb5";
const ORANGE = "#e0561d";
const BLACK = "#1d1d1b";
const FONT = '"Open Sans", "Noto Sans", sans-serif';

export default function App() {
  const ref = useRef<HTMLDivElement | null>(null);
  useEffect(() => {
    document.body.style.margin = "0";
    const chart = echarts.init(ref.current!, undefined, { renderer: "svg" });
    const dot = (data: [number, number][], color: string) => ({
      type: "scatter",
      data,
      symbolSize: 26,
      silent: true,
      z: 2,
      itemStyle: { color, opacity: 1, borderColor: "rgba(150,150,150,0.35)", borderWidth: 1 },
    });
    const curve = (data: [number, number][], color: string, width: number) => ({
      type: "line",
      yAxisIndex: 1,
      data,
      showSymbol: false,
      symbol: "none",
      silent: true,
      z: 4,
      lineStyle: { color, width },
    });
    chart.setOption({
      animation: false,
      backgroundColor: "#ffffff",
      grid: { left: 294, right: 136, top: 172, bottom: 167, containLabel: false },
      xAxis: {
        type: "value", min: 0, max: 2.2, interval: 0.2, z: 3,
        axisLine: { show: true, onZero: false, lineStyle: { color: BLACK, width: 10 } },
        axisTick: { show: true, inside: true, length: 16, lineStyle: { color: BLACK, width: 8 } },
        axisLabel: {
          margin: 25, color: BLACK, fontSize: 55, fontWeight: "bold", fontFamily: FONT,
          formatter: (v: number) => String(Math.round(v * 10) / 10),
        },
        splitLine: { show: true, lineStyle: { color: "rgba(150,150,150,0.38)", width: 7 } },
      },
      yAxis: [
        {
          type: "value", position: "left", min: -3.5, max: 0.5, interval: 0.5, z: 3,
          axisLine: { show: true, lineStyle: { color: BLUE, width: 10 } },
          axisTick: { show: true, inside: true, length: 17, lineStyle: { color: BLUE, width: 9 } },
          axisLabel: {
            margin: 16, color: BLUE, fontSize: 55, fontWeight: "bold", fontFamily: FONT,
            formatter: (v: number) => String(Math.round(v * 10) / 10),
          },
          splitLine: { show: true, lineStyle: { color: "rgba(152,192,225,0.42)", width: 8 } },
        },
        {
          type: "value", position: "right", min: 0, max: 14, interval: 2, z: 3,
          axisLine: { show: true, lineStyle: { color: ORANGE, width: 10 } },
          axisTick: { show: true, inside: true, length: 18, lineStyle: { color: ORANGE, width: 9 } },
          axisLabel: { margin: 20, color: ORANGE, fontSize: 55, fontWeight: "bold", fontFamily: FONT },
          splitLine: { show: false },
        },
      ],
      series: [
        dot(yellowEvents, "#f8cb6c"),
        dot(purpleEvents, "#a97cbf"),
        dot(greenEvents, "#9dc968"),
        dot(cyanEvents, "#88d1f4"),
        curve(yellowMoment, "#f5d27d", 13),
        curve(purpleMoment, "#7a2b8e", 9),
        curve(greenMoment, "#6ba533", 10),
        curve(cyanMoment, "#3fb3e8", 10),
      ],
      graphic: [
        { type: "rect", shape: { x: 0, y: 0, width: 2518, height: 13 }, style: { fill: "#00612f" } },
        { type: "rect", shape: { x: 12, y: 13, width: 3, height: 1339 }, style: { fill: "#2c7a4c" } },
        {
          type: "text", x: 1142, y: 92,
          style: { text: TITLE, font: 'bold 104px "Liberation Sans", Arial, sans-serif', fill: "#000", align: "center", verticalAlign: "middle" },
        },
        {
          type: "text", x: 103, y: 339, rotation: Math.PI / 2,
          style: { text: Y_NAME, font: `bold 64px ${FONT}`, fill: BLUE, align: "right", verticalAlign: "middle" },
        },
        {
          type: "text", x: 130, y: 339, rotation: Math.PI / 2,
          style: { text: Y_NAME_SUB, font: `bold 46px ${FONT}`, fill: BLUE, align: "left", verticalAlign: "middle" },
        },
        {
          type: "text", x: 1381, y: 1312,
          style: { text: X_NAME, font: `bold 58px ${FONT}`, fill: BLACK, align: "center", verticalAlign: "middle" },
        },
        {
          type: "text", x: 2256, y: 1332,
          style: { text: "x 10", font: `bold 56px ${FONT}`, fill: BLACK, align: "left", verticalAlign: "middle" },
        },
        {
          type: "text", x: 2348, y: 1287,
          style: { text: "7", font: `bold 58px ${FONT}`, fill: BLACK, align: "left", verticalAlign: "middle" },
        },
        {
          type: "text", x: 2388, y: 112,
          style: { text: "x 10", font: `bold 64px ${FONT}`, fill: ORANGE, align: "left", verticalAlign: "middle" },
        },
        {
          type: "text", x: 2513, y: 72,
          style: { text: "5", font: `bold 50px ${FONT}`, fill: ORANGE, align: "left", verticalAlign: "middle" },
        },
        {
          type: "text", x: 2528, y: 575, rotation: Math.PI / 2,
          style: { text: RIGHT_NAME, font: `bold 60px ${FONT}`, fill: ORANGE, align: "center", verticalAlign: "middle" },
        },
      ],
    });
    return () => chart.dispose();
  }, []);
  return <div ref={ref} style={{ width: 2518, height: 1352 }} />;
}
